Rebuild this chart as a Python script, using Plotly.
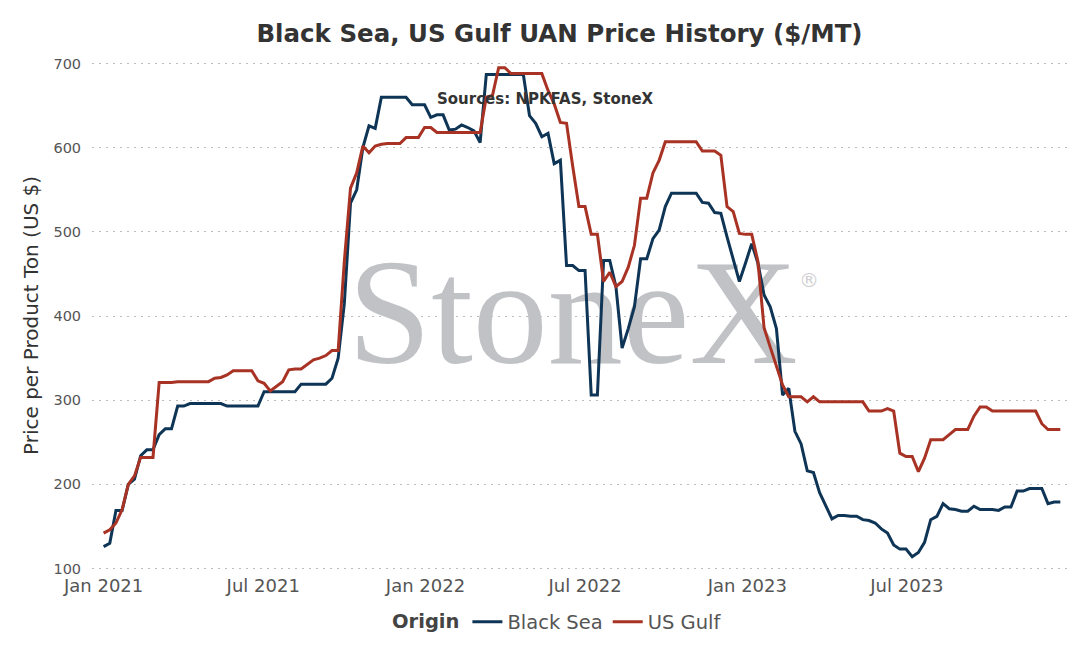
"""Black Sea vs US Gulf UAN weekly prices, rebuilt with plotly."""
import pandas as pd
import plotly.graph_objects as go

# weekly observations (Fridays), Jan 2021 -> Dec 2023
weeks = pd.date_range("2021-01-01", periods=156, freq="7D")

black_sea = [
    126, 130, 169, 169, 200, 206, 234, 241, 241, 259, 266, 266, 293, 293, 296, 296,
    296, 296, 296, 296, 293, 293, 293, 293, 293, 293, 310, 310, 310, 310, 310, 310,
    319, 319, 319, 319, 319, 326, 350, 415, 534, 550, 600, 626, 623, 660, 660, 660,
    660, 660, 651, 651, 651, 636, 639, 639, 621, 622, 627, 624, 620, 606, 687, 687,
    687, 687, 687, 687, 687, 638, 629, 613, 617, 581, 585, 460, 460, 454, 454, 306,
    306, 466, 466, 435, 362, 385, 411, 468, 468, 492, 502, 530, 546, 546, 546, 546,
    546, 535, 534, 523, 522, 494, 467, 441, 463, 486, 463, 425, 411, 385, 306, 314,
    263, 248, 216, 214, 190, 175, 159, 163, 163, 162, 162, 158, 157, 154, 147, 142,
    128, 123, 123, 114, 119, 131, 158, 162, 177, 171, 170, 168, 168, 174, 170, 170,
    170, 169, 173, 173, 192, 192, 195, 195, 195, 177, 179, 179,
]

us_gulf = [
    142, 146, 154, 170, 200, 210, 232, 232, 232, 321, 321, 321, 322, 322, 322, 322,
    322, 322, 326, 327, 330, 335, 335, 335, 335, 323, 320, 311, 316, 322, 336, 337,
    337, 343, 348, 350, 353, 359, 359, 465, 552, 570, 602, 594, 602, 604, 605, 605,
    605, 612, 612, 612, 624, 624, 618, 618, 618, 618, 618, 618, 618, 618, 660, 662,
    695, 695, 688, 688, 688, 688, 688, 688, 668, 652, 630, 629, 578, 530, 530, 497,
    497, 441, 452, 435, 441, 458, 484, 540, 540, 570, 585, 607, 607, 607, 607, 607,
    607, 596, 596, 596, 591, 530, 524, 498, 497, 497, 465, 386, 363, 340, 318, 304,
    304, 304, 298, 304, 298, 298, 298, 298, 298, 298, 298, 298, 287, 287, 287, 290,
    287, 237, 233, 233, 215, 231, 253, 253, 253, 259, 265, 265, 265, 281, 292, 292,
    287, 287, 287, 287, 287, 287, 287, 287, 272, 265, 265, 265,
]

y_ticks = [100, 200, 300, 400, 500, 600, 700]

BLUE = "#0e3456"
RED = "#a83223"
FONT = "DejaVu Sans"

fig = go.Figure()

# watermark as a text trace so the price lines sit on top of it
fig.add_trace(go.Scatter(
    x=["2022-06-17"], y=[389], mode="text", text=["StoneX"],
    textfont=dict(family="Liberation Serif", size=150, color="#c1c2c5"),
    textposition="middle center", showlegend=False, hoverinfo="skip"))
fig.add_trace(go.Scatter(
    x=["2023-03-12"], y=[440], mode="text", text=["®"],
    textfont=dict(family=FONT, size=20, color="#d0d0d2"),
    textposition="middle center", showlegend=False, hoverinfo="skip"))

fig.add_trace(go.Scatter(x=weeks, y=black_sea, mode="lines", name="Black Sea",
                         line=dict(color=BLUE, width=3)))
fig.add_trace(go.Scatter(x=weeks, y=us_gulf, mode="lines", name="US Gulf",
                         line=dict(color=RED, width=3)))

fig.update_layout(
    width=1085, height=652,
    margin=dict(l=84, r=23, t=53, b=89),
    paper_bgcolor="white", plot_bgcolor="white",
    font=dict(family=FONT, color="#555555"),
    title=dict(text="<b>Black Sea, US Gulf UAN Price History ($/MT)</b>",
               x=551.5 / 1085, xanchor="center", xref="container",
               y=1 - 25 / 652, yanchor="middle", yref="container",
               font=dict(family=FONT, size=24.5, color="#333333")),
    legend=dict(orientation="h", x=0.477, xanchor="center", y=-0.1, yanchor="middle",
                font=dict(family=FONT, size=19.5, color="#555555"),
                title=dict(text="<b>Origin</b>", side="left",
                           font=dict(family=FONT, size=19.5, color="#444444"))),
    showlegend=True,
)

fig.update_xaxes(
    range=["2020-12-18 20:00", "2024-01-01 23:00"],
    tickformat="%b %Y", dtick="M6", tick0="2021-01-01",
    showgrid=False, zeroline=False, showline=False, ticks="",
    ticklabelstandoff=2,
    tickfont=dict(family=FONT, size=18, color="#555555"),
)
fig.update_yaxes(
    range=[97, 703], tickvals=y_ticks,
    showgrid=True, gridcolor="#bdbdbd", griddash="2px,5px", gridwidth=1,
    zeroline=False, showline=False,
    ticks="outside", ticklen=7, tickcolor="rgba(0,0,0,0)",
    tickfont=dict(family=FONT, size=14.5, color="#555555"),
)

plot_top, plot_h = 53, 652 - 53 - 89
fig.add_annotation(text="<b>Sources: NPKFAS, StoneX</b>", xref="paper", yref="paper",
                   x=(537.6 - 84) / 978, y=1 - (91.3 - plot_top) / plot_h, showarrow=False,
                   xanchor="center", yanchor="middle",
                   font=dict(family=FONT, size=15, color="#333333"))
fig.add_annotation(text="Price per Product Ton (US $)", textangle=-90,
                   xref="paper", yref="paper", x=-(84 - 23) / 978, y=0.5,
                   xanchor="center", yanchor="middle", showarrow=False,
                   font=dict(family=FONT, size=20, color="#333333"))

fig.write_html("out.html")
